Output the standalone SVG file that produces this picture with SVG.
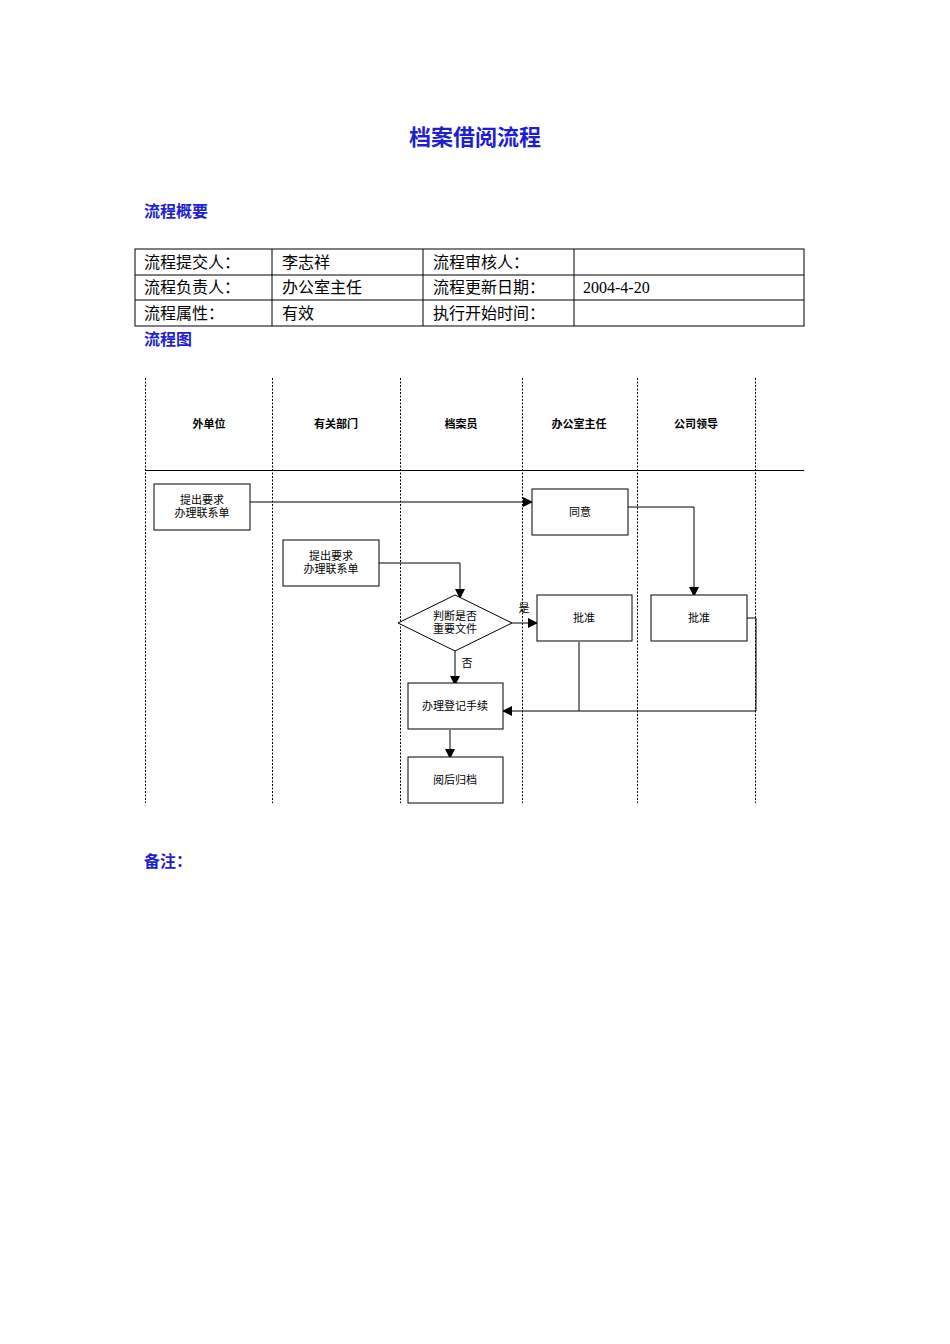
<svg xmlns="http://www.w3.org/2000/svg" width="950" height="1344" viewBox="0 0 950 1344">
<style>
.h{font-family:"Liberation Serif","Noto Sans CJK SC",serif;font-weight:bold;fill:#1f1fd0}
.t{font-family:"Liberation Serif","Noto Sans CJK SC",serif;font-size:16px;fill:#000}
.s{font-family:"Liberation Sans","Noto Sans CJK SC",sans-serif;font-size:11px;fill:#000;text-anchor:middle}
.lb{font-family:"Liberation Sans","Noto Sans CJK SC",sans-serif;font-size:11px;font-weight:bold;fill:#000;text-anchor:middle}
.b{fill:#fff;stroke:#000;stroke-width:1}
.c{fill:none;stroke:#000;stroke-width:1}
.d{stroke:#000;stroke-width:1;stroke-dasharray:2,1.5}
</style>
<defs><marker id="a" markerWidth="10" markerHeight="10" refX="9" refY="5" orient="auto" markerUnits="userSpaceOnUse"><path d="M0,0 L10,5 L0,10 z" fill="#000"/></marker></defs>
<rect width="950" height="1344" fill="#fff"/>
<text class="h" x="475" y="145" font-size="22" text-anchor="middle">档案借阅流程</text>
<text class="h" x="144" y="217" font-size="16">流程概要</text>
<g id="table" class="c">
<rect x="135" y="249" width="669" height="77"/>
<line x1="135" y1="275" x2="804" y2="275"/><line x1="135" y1="300" x2="804" y2="300"/>
<line x1="272" y1="249" x2="272" y2="326"/><line x1="423" y1="249" x2="423" y2="326"/><line x1="574" y1="249" x2="574" y2="326"/>
</g>
<text class="t" x="144" y="268">流程提交人：</text><text class="t" x="282" y="268">李志祥</text><text class="t" x="433" y="268">流程审核人：</text>
<text class="t" x="144" y="293">流程负责人：</text><text class="t" x="282" y="293">办公室主任</text><text class="t" x="433" y="293">流程更新日期：</text><text class="t" x="583" y="293">2004-4-20</text>
<text class="t" x="144" y="319">流程属性：</text><text class="t" x="282" y="319">有效</text><text class="t" x="433" y="319">执行开始时间：</text>
<text class="h" x="144" y="345" font-size="16">流程图</text>
<g id="lanes">
<line class="d" x1="145.5" y1="378" x2="145.5" y2="803"/><line class="d" x1="272.5" y1="378" x2="272.5" y2="803"/><line class="d" x1="400.5" y1="378" x2="400.5" y2="803"/><line class="d" x1="522.5" y1="378" x2="522.5" y2="803"/><line class="d" x1="637.5" y1="378" x2="637.5" y2="803"/><line class="d" x1="755.5" y1="378" x2="755.5" y2="803"/>
<line class="c" x1="145" y1="470.5" x2="804" y2="470.5"/>
<text class="lb" x="209" y="428">外单位</text><text class="lb" x="336" y="428">有关部门</text><text class="lb" x="461" y="428">档案员</text><text class="lb" x="579" y="428">办公室主任</text><text class="lb" x="696" y="428">公司领导</text>
</g>
<g id="connectors" class="c">
<path d="M250,502 H532" marker-end="url(#a)"/>
<path d="M628,507 H694 V596" marker-end="url(#a)"/>
<path d="M379,563 H460 V598" marker-end="url(#a)"/>
<path d="M512,623 H537" marker-end="url(#a)"/>
<path d="M455,651 V685" marker-end="url(#a)"/>
<path d="M579,642 V711"/>
<path d="M747,618 H756 V711 H503" marker-end="url(#a)"/>
<path d="M450,730 V758" marker-end="url(#a)"/>
</g>
<text class="s" x="524" y="612">是</text><text class="s" x="467" y="667">否</text>
<g id="n1"><rect class="b" x="154" y="484" width="96" height="46"/><text class="s" x="202" y="504">提出要求</text><text class="s" x="202" y="517">办理联系单</text></g>
<g id="n2"><rect class="b" x="532" y="489" width="96" height="46"/><text class="s" x="580" y="516">同意</text></g>
<g id="n3"><rect class="b" x="283" y="540" width="96" height="46"/><text class="s" x="331" y="560">提出要求</text><text class="s" x="331" y="573">办理联系单</text></g>
<g id="n4"><polygon class="b" points="455,595 512,623 455,651 398,623"/><text class="s" x="455" y="620">判断是否</text><text class="s" x="455" y="633">重要文件</text></g>
<g id="n5"><rect class="b" x="537" y="595" width="95" height="46"/><text class="s" x="584" y="622">批准</text></g>
<g id="n6"><rect class="b" x="651" y="595" width="96" height="46"/><text class="s" x="699" y="622">批准</text></g>
<g id="n7"><rect class="b" x="408" y="683" width="95" height="46"/><text class="s" x="455" y="710">办理登记手续</text></g>
<g id="n8"><rect class="b" x="408" y="757" width="95" height="46"/><text class="s" x="455" y="784">阅后归档</text></g>
<text class="h" x="144" y="867" font-size="16">备注：</text>
</svg>
